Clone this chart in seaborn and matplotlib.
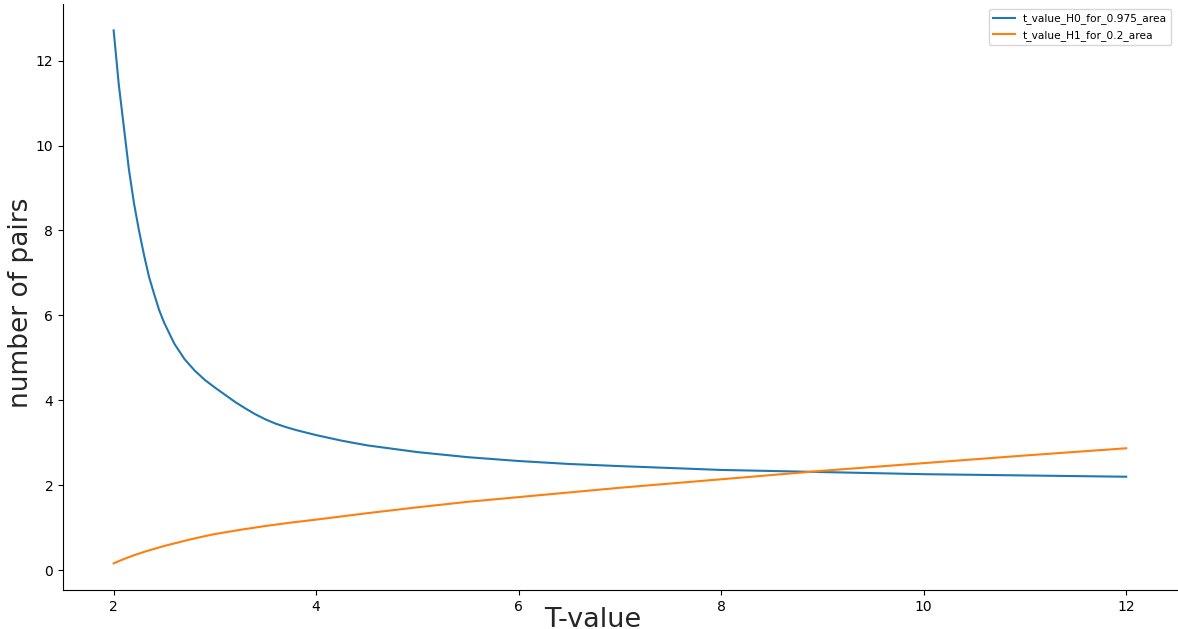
import numpy as np
import pandas as pd
import matplotlib
matplotlib.use('Agg')
import matplotlib.pyplot as plt
import seaborn as sns

# values
x_h0 = [2.0, 2.05, 2.1, 2.15, 2.2, 2.25, 2.3, 2.35, 2.4, 2.45, 2.5, 2.6, 2.7, 2.8, 2.9,
        3.0, 3.1, 3.2, 3.3, 3.4, 3.5, 3.6, 3.7, 3.8, 3.9, 4.0, 4.25, 4.5, 4.75, 5.0,
        5.5, 6.0, 6.5, 7.0, 8.0, 9.0, 10.0, 11.0, 12.0]
t_h0 = [12.71, 11.45, 10.45, 9.45, 8.65, 8.0, 7.42, 6.9, 6.5, 6.12, 5.82, 5.33, 4.97, 4.7, 4.48,
        4.30, 4.13, 3.96, 3.81, 3.67, 3.55, 3.45, 3.37, 3.30, 3.24, 3.18, 3.05, 2.94, 2.86, 2.78,
        2.66, 2.57, 2.50, 2.45, 2.36, 2.31, 2.26, 2.23, 2.20]

x_h1 = [2.0, 2.05, 2.1, 2.15, 2.2, 2.3, 2.4, 2.5, 2.6, 2.75, 2.9, 3.0, 3.25, 3.5, 3.75, 4.0,
        4.5, 5.0, 5.5, 6.0, 7.0, 8.0, 9.0, 10.0, 11.0, 12.0]
t_h1 = [0.16, 0.21, 0.26, 0.305, 0.35, 0.43, 0.50, 0.57, 0.63, 0.72, 0.80, 0.85, 0.95, 1.04, 1.12, 1.19,
        1.34, 1.48, 1.61, 1.72, 1.94, 2.14, 2.34, 2.52, 2.70, 2.87]

df0 = pd.DataFrame({'x': x_h0, 'y': t_h0})
df1 = pd.DataFrame({'x': x_h1, 'y': t_h1})

fig, ax = plt.subplots(figsize=(11.78, 6.29), dpi=100)
sns.lineplot(data=df0, x='x', y='y', ax=ax, color='#1f77b4', label='t_value_H0_for_0.975_area')
sns.lineplot(data=df1, x='x', y='y', ax=ax, color='#ff7f0e', label='t_value_H1_for_0.2_area')

ax.set_xlabel('T-value', fontsize=19.5, color='#262626', labelpad=-5)
ax.set_ylabel('number of pairs', fontsize=19, color='#262626', labelpad=1)
# label centres sit a bit off the axes centre in the original
ax.xaxis.label.set_x(0.476)
ax.yaxis.label.set_y(0.49)
ax.legend(loc='upper right', fontsize=7.7)
sns.despine(ax=ax)

plt.subplots_adjust(left=0.0535, right=0.999, bottom=0.062, top=0.994)
plt.savefig('out.png', dpi=100)
